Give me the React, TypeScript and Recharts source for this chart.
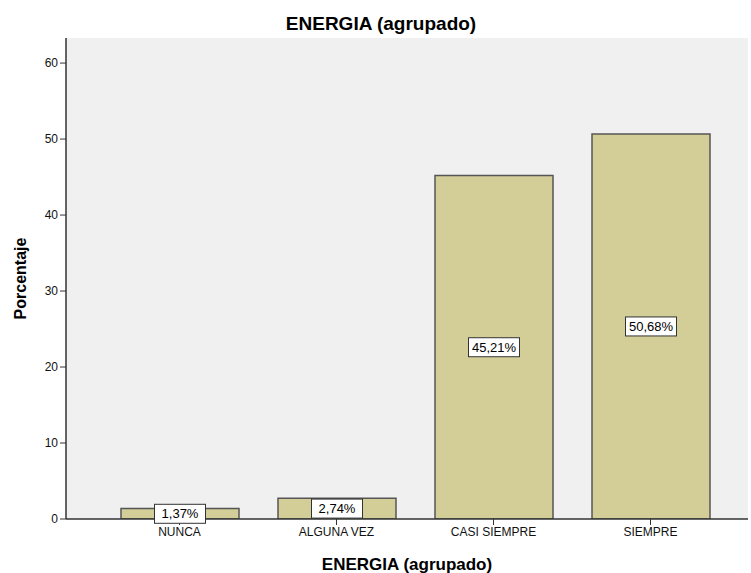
import {
  BarChart,
  Bar,
  XAxis,
  YAxis,
  CartesianGrid,
  LabelList,
  Label,
} from "recharts";

const categories = ["NUNCA", "ALGUNA VEZ", "CASI SIEMPRE", "SIEMPRE"];
const percentages = [1.37, 2.74, 45.21, 50.68];
const yTicks = [0, 10, 20, 30, 40, 50, 60];

const data = categories.map((name, i) => ({ name, value: percentages[i] }));

const fmt = (v: number) => `${v.toFixed(2).replace(".", ",")}%`;

const PctLabel = (props: any) => {
  const { x, y, width, height, value } = props;
  const cx = Number(x) + Number(width) / 2;
  const cy = Number(y) + Number(height) / 2;
  const w = 51;
  const h = 19;
  return (
    <g>
      <rect
        x={cx - w / 2}
        y={cy - h / 2}
        width={w}
        height={h}
        fill="#ffffff"
        stroke="#333333"
        strokeWidth={1}
      />
      <text
        x={cx}
        y={cy + 4.5}
        textAnchor="middle"
        fontSize={13}
        fill="#000"
        fontFamily="Arial, 'Liberation Sans', sans-serif"
      >
        {fmt(Number(value))}
      </text>
    </g>
  );
};

const App = () => {
  const font = "Arial, 'Liberation Sans', sans-serif";
  return (
    <div
      style={{
        position: "absolute",
        left: 0,
        top: 0,
        width: 751,
        height: 573,
        background: "#fff",
        fontFamily: font,
      }}
    >
      <div
        style={{
          position: "absolute",
          top: 13,
          left: 0,
          width: 762,
          textAlign: "center",
          fontWeight: "bold",
          fontSize: 19,
          lineHeight: "22px",
          color: "#000",
        }}
      >
        ENERGIA (agrupado)
      </div>
      <BarChart
        width={751}
        height={573}
        data={data}
        margin={{ top: 38, right: 3, left: 0, bottom: 0 }}
        barSize={118}
      >
        <CartesianGrid
          xAxisId="main"
          yAxisId="main"
          fill="#f0f0f0"
          horizontal={false}
          vertical={false}
        />
        <XAxis
          xAxisId="top"
          orientation="top"
          dataKey="name"
          height={0}
          tick={false}
          tickLine={false}
          axisLine={{ stroke: "#8a8a8a", strokeWidth: 1.5 }}
          padding={{ left: 35, right: 19 }}
        />
        <YAxis
          yAxisId="right"
          orientation="right"
          width={0}
          tick={false}
          tickLine={false}
          domain={[0, 63.3]}
          axisLine={{ stroke: "#8a8a8a", strokeWidth: 1 }}
        />
        <XAxis
          xAxisId="main"
          dataKey="name"
          height={54}
          interval={0}
          padding={{ left: 35, right: 19 }}
          axisLine={{ stroke: "#333", strokeWidth: 1.5 }}
          tickLine={{ stroke: "#333" }}
          tickSize={6}
          tick={{ fontSize: 12, fill: "#111", fontFamily: font }}
        >
          <Label
            value="ENERGIA (agrupado)"
            position="insideBottom"
            offset={3}
            style={{ fontWeight: "bold", fontSize: 17, fill: "#000", fontFamily: font }}
          />
        </XAxis>
        <YAxis
          yAxisId="main"
          width={66}
          domain={[0, 63.3]}
          ticks={yTicks}
          allowDataOverflow
          axisLine={{ stroke: "#333", strokeWidth: 1.5 }}
          tickLine={{ stroke: "#333" }}
          tickSize={6}
          tick={{ fontSize: 12, fill: "#111", fontFamily: font }}
        >
          <Label
            value="Porcentaje"
            angle={-90}
            position="insideLeft"
            offset={20}
            style={{
              fontWeight: "bold",
              fontSize: 16,
              fill: "#000",
              fontFamily: font,
              textAnchor: "middle",
            }}
          />
        </YAxis>
        <Bar
          xAxisId="main"
          yAxisId="main"
          dataKey="value"
          fill="#d3ce97"
          stroke="#555"
          strokeWidth={1.5}
          isAnimationActive={false}
        >
          <LabelList dataKey="value" content={<PctLabel />} />
        </Bar>
      </BarChart>
    </div>
  );
};

export default App;
